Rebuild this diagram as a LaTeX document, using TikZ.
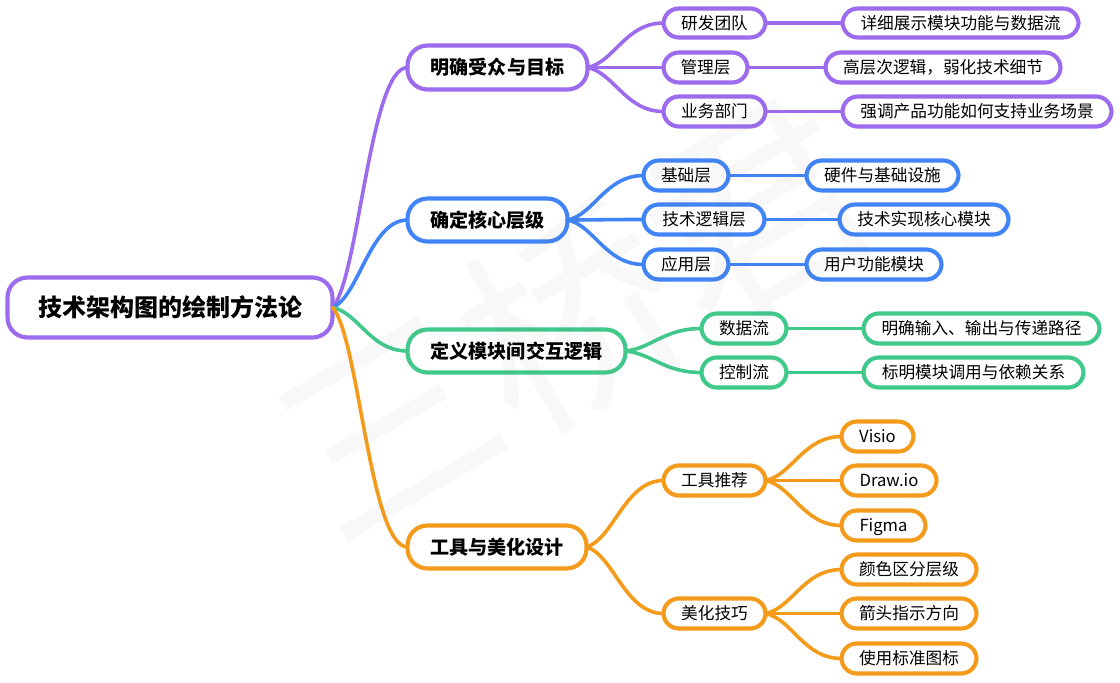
\documentclass[tikz,border=0pt]{standalone}
\usepackage{fontspec}
\setmainfont{Noto Sans CJK SC}
\usetikzlibrary{calc}
\definecolor{cpurple}{HTML}{9C6BEE}
\definecolor{cblue}{HTML}{4084F8}
\definecolor{cgreen}{HTML}{40C98A}
\definecolor{corange}{HTML}{F59B1C}
\tikzset{
  box/.style={draw,fill=white,line width=3.1pt,inner sep=0pt,outer sep=0pt,text=black,align=center},
  rootbox/.style={box,rounded corners=15pt,font=\fontsize{18pt}{22pt}\bfseries\selectfont,text height=15.8pt,text depth=2.2pt},
  mainbox/.style={box,rounded corners=15pt,font=\fontsize{14.3pt}{18pt}\bfseries\selectfont,text height=12.6pt,text depth=1.7pt},
  leafbox/.style={box,rounded corners=11.5pt,font=\fontsize{12.5pt}{15pt}\selectfont,text height=10.9pt,text depth=1.5pt},
  link/.style={line width=2.7pt,line cap=round},
  mark text/.style={text=gray,opacity=.05,font=\fontsize{160pt}{160pt}\selectfont,rotate=30,inner sep=0pt}
}
% name, style, left, right, top, bottom, text (outer pixel edges)
\newcommand\nd[7]{\node[#2,minimum width={(#4-#3-3)*0.75pt},minimum height={(#6-#5-3)*0.75pt}] (#1) at ({(#3+#4)/2},{(#5+#6)/2}) {#7};}
\newcommand\conn[3]{\draw[link,#3] let \p1=(#1.east),\p2=(#2.west) in (#1.east) .. controls ({\x1+.35*(\x2-\x1)},{\y1+.12*(\y2-\y1)}) and ({\x2-.5*(\x2-\x1)},{\y2}) .. (#2.west);}
\newcommand\straight[3]{\draw[link,#3] (#1.east) -- (#2.west);}
\begin{document}
\begin{tikzpicture}[x=0.75pt,y=-0.75pt]
\useasboundingbox (0,0) rectangle (1120,682);
\fill[white] (0,0) rectangle (1120,682);
\nd{root}{rootbox,draw=cpurple}{6}{334}{276}{339}{技术架构图的绘制方法论}
\nd{a}{mainbox,draw=cpurple}{406}{589}{44}{91}{明确受众与目标}
\nd{a1}{leafbox,draw=cpurple}{662}{767}{7}{39}{研发团队}
\nd{a2}{leafbox,draw=cpurple}{662}{749}{51}{84}{管理层}
\nd{a3}{leafbox,draw=cpurple}{662}{767}{95}{128}{业务部门}
\nd{a1x}{leafbox,draw=cpurple}{841}{1080}{7}{39}{详细展示模块功能与数据流}
\nd{a2x}{leafbox,draw=cpurple}{824}{1062}{51}{84}{高层次逻辑，弱化技术细节}
\nd{a3x}{leafbox,draw=cpurple}{841}{1113}{95}{128}{强调产品功能如何支持业务场景}
\nd{b}{mainbox,draw=cblue}{406}{569}{197}{243}{确定核心层级}
\nd{b1}{leafbox,draw=cblue}{642}{730}{159}{192}{基础层}
\nd{b2}{leafbox,draw=cblue}{642}{766}{203}{236}{技术逻辑层}
\nd{b3}{leafbox,draw=cblue}{642}{730}{248}{281}{应用层}
\nd{b1x}{leafbox,draw=cblue}{805}{960}{159}{192}{硬件与基础设施}
\nd{b2x}{leafbox,draw=cblue}{838}{1010}{203}{236}{技术实现核心模块}
\nd{b3x}{leafbox,draw=cblue}{805}{943}{248}{281}{用户功能模块}
\nd{c}{mainbox,draw=cgreen}{406}{627}{328}{374}{定义模块间交互逻辑}
\nd{c1}{leafbox,draw=cgreen}{700}{788}{312}{345}{数据流}
\nd{c2}{leafbox,draw=cgreen}{700}{788}{356}{389}{控制流}
\nd{c1x}{leafbox,draw=cgreen}{862}{1101}{312}{345}{明确输入、输出与传递路径}
\nd{c2x}{leafbox,draw=cgreen}{862}{1085}{356}{389}{标明模块调用与依赖关系}
\nd{d}{mainbox,draw=corange}{406}{588}{524}{570}{工具与美化设计}
\nd{d1}{leafbox,draw=corange}{662}{767}{464}{497}{工具推荐}
\nd{d2}{leafbox,draw=corange}{662}{767}{597}{630}{美化技巧}
\nd{d11}{leafbox,draw=corange}{840}{915}{420}{453}{Visio}
\nd{d12}{leafbox,draw=corange}{840}{938}{464}{497}{Draw.io}
\nd{d13}{leafbox,draw=corange}{840}{927}{509}{542}{Figma}
\nd{d21}{leafbox,draw=corange}{840}{978}{553}{586}{颜色区分层级}
\nd{d22}{leafbox,draw=corange}{840}{978}{597}{630}{箭头指示方向}
\nd{d23}{leafbox,draw=corange}{840}{978}{642}{675}{使用标准图标}
\conn{root}{a}{cpurple}\conn{root}{b}{cblue}\conn{root}{c}{cgreen}\conn{root}{d}{corange}
\conn{a}{a1}{cpurple}\conn{a}{a2}{cpurple}\conn{a}{a3}{cpurple}
\straight{a1}{a1x}{cpurple}\straight{a2}{a2x}{cpurple}\straight{a3}{a3x}{cpurple}
\conn{b}{b1}{cblue}\conn{b}{b2}{cblue}\conn{b}{b3}{cblue}
\straight{b1}{b1x}{cblue}\straight{b2}{b2x}{cblue}\straight{b3}{b3x}{cblue}
\conn{c}{c1}{cgreen}\conn{c}{c2}{cgreen}
\straight{c1}{c1x}{cgreen}\straight{c2}{c2x}{cgreen}
\conn{d}{d1}{corange}\conn{d}{d2}{corange}
\conn{d1}{d11}{corange}\conn{d1}{d12}{corange}\conn{d1}{d13}{corange}
\conn{d2}{d21}{corange}\conn{d2}{d22}{corange}\conn{d2}{d23}{corange}
\node[mark text] (wm) at (572,318) {三桥君};
\end{tikzpicture}
\end{document}
